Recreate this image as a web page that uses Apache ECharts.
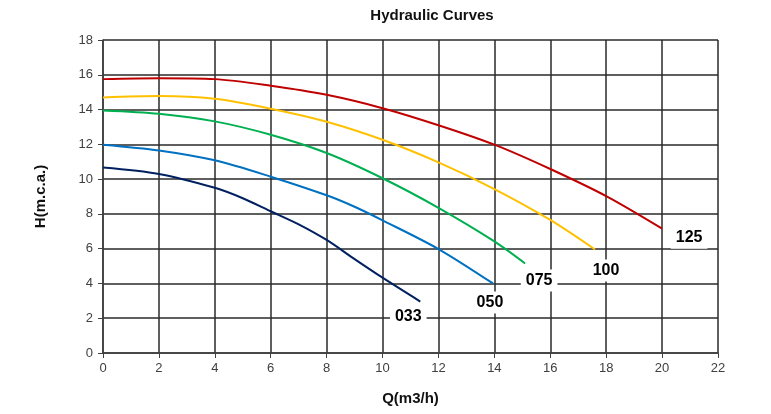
<!DOCTYPE html>
<html>
<head>
<meta charset="utf-8">
<script src="https://cdn.jsdelivr.net/npm/echarts@6/dist/echarts.min.js"></script>
<style>html,body{margin:0;padding:0;background:#fff}#c{width:771px;height:414px}</style>
</head>
<body>
<div id="c"></div>
<script>
var chartTitle = 'Hydraulic Curves';
var xName = 'Q(m3/h)';
var yName = 'H(m.c.a.)';
var seriesNames = ['125', '100', '075', '050', '033'];
var seriesColors = ['#c00000', '#ffc000', '#00b050', '#0070c0', '#002060'];
var q125 = [0, 2, 4, 6, 8, 10, 12, 14, 16, 18, 20];
var h125 = [15.75, 15.8, 15.75, 15.37, 14.85, 14.08, 13.1, 11.98, 10.58, 9.02, 7.15];
var q100 = [0, 2, 4, 6, 8, 10, 12, 14, 16, 17.6];
var h100 = [14.7, 14.78, 14.62, 14.05, 13.3, 12.26, 10.96, 9.43, 7.65, 5.95];
var q075 = [0, 2, 4, 6, 8, 10, 12, 14, 15.1];
var h075 = [13.95, 13.76, 13.32, 12.55, 11.5, 10.05, 8.35, 6.42, 5.15];
var q050 = [0, 2, 4, 6, 8, 9, 10, 12, 13.95];
var h050 = [11.98, 11.65, 11.08, 10.14, 9.07, 8.41, 7.63, 5.98, 4.0];
var q033 = [0, 2, 4, 5, 6, 7, 8, 9, 10, 11.35];
var h033 = [10.67, 10.3, 9.5, 8.9, 8.15, 7.4, 6.5, 5.4, 4.33, 2.96];
var labelOffsets = [[27, 9], [11, 21], [14, 17], [-3, 19], [-12, 15]];

var qs = [q125, q100, q075, q050, q033];
var hs = [h125, h100, h075, h050, h033];

function pairs(q, h) { return q.map(function (v, i) { return [v, h[i]]; }); }

var series = seriesNames.map(function (name, s) {
  return {
    name: name, type: 'line', smooth: 0.3, symbol: 'none', data: pairs(qs[s], hs[s]),
    lineStyle: { color: seriesColors[s], width: 2 },
    endLabel: {
      show: true, formatter: name, distance: 0, offset: labelOffsets[s],
      align: 'center', verticalAlign: 'middle',
      color: '#000', fontWeight: 'bold', fontSize: 16, fontFamily: 'Liberation Sans',
      backgroundColor: '#fff', padding: [3, 5]
    },
    z: 5
  };
});

var chart = echarts.init(document.getElementById('c'));
chart.setOption({
  animation: false,
  textStyle: { fontFamily: 'Liberation Sans' },
  title: {
    text: chartTitle, left: 427, top: 3, textAlign: 'center',
    textStyle: { fontSize: 15, fontWeight: 'bold', color: '#111', fontFamily: 'Liberation Sans' }
  },
  grid: { left: 103, top: 40, right: 53, bottom: 61, containLabel: false },
  xAxis: {
    type: 'value', min: 0, max: 22, interval: 2,
    name: xName, nameLocation: 'middle', nameGap: 38,
    nameTextStyle: { fontSize: 15, fontWeight: 'bold', color: '#111' },
    axisLine: { show: true, lineStyle: { color: '#404040', width: 1.5 } },
    axisTick: { show: true, length: 5, inside: false, lineStyle: { color: '#404040' } },
    axisLabel: { fontSize: 13, color: '#404040', margin: 9 },
    splitLine: { show: true, lineStyle: { color: '#2a2a2a', width: 1.5 } }
  },
  yAxis: {
    type: 'value', min: 0, max: 18, interval: 2,
    name: yName, nameLocation: 'middle', nameGap: 55, nameRotate: 90,
    nameTextStyle: { fontSize: 15, fontWeight: 'bold', color: '#111' },
    axisLine: { show: true, lineStyle: { color: '#404040', width: 1.5 } },
    axisTick: { show: true, length: 5, inside: false, lineStyle: { color: '#404040' } },
    axisLabel: { fontSize: 13, color: '#404040', margin: 10 },
    splitLine: { show: true, lineStyle: { color: '#2a2a2a', width: 1.5 } }
  },
  series: series
});
</script>
</body>
</html>
